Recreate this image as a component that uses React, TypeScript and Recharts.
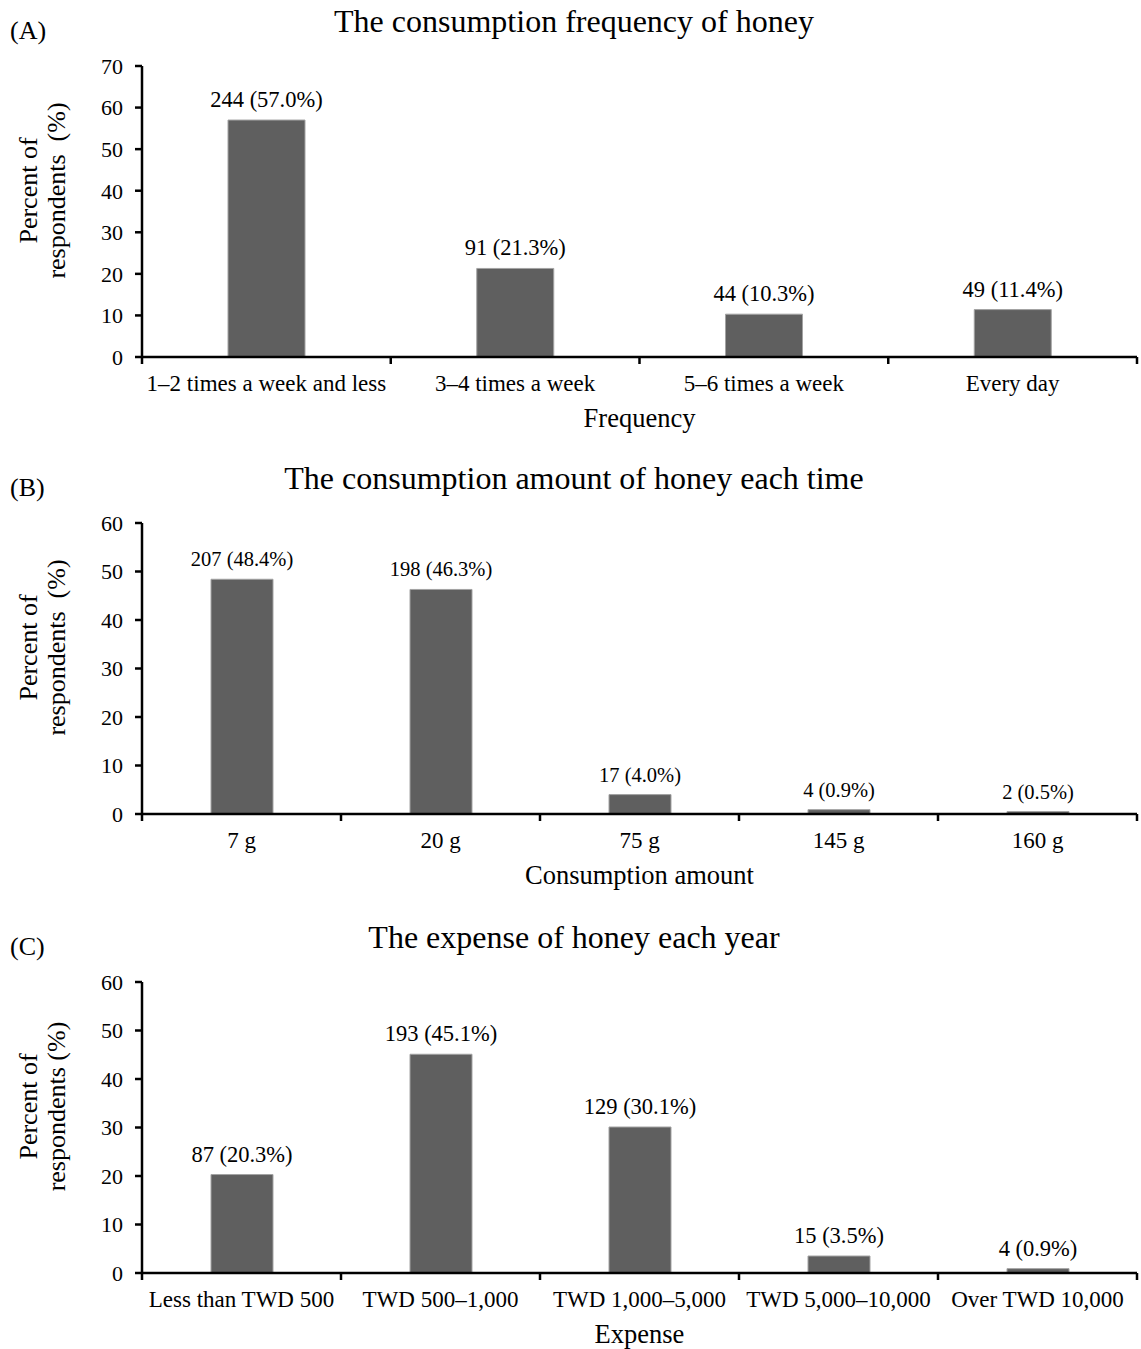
import React from 'react';
import { BarChart, Bar, XAxis, YAxis, LabelList } from 'recharts';

const FONT = '"Liberation Serif", "Times New Roman", Times, serif';

// (A) consumption frequency
const freqCategories = ['1–2 times a week and less', '3–4 times a week', '5–6 times a week', 'Every day'];
const freqCounts = [244, 91, 44, 49];
const freqPercents = [57.0, 21.3, 10.3, 11.4];
const freqTicks = [0, 10, 20, 30, 40, 50, 60, 70];

// (B) consumption amount each time
const amountCategories = ['7 g', '20 g', '75 g', '145 g', '160 g'];
const amountCounts = [207, 198, 17, 4, 2];
const amountPercents = [48.4, 46.3, 4.0, 0.9, 0.5];
const amountTicks = [0, 10, 20, 30, 40, 50, 60];

// (C) expense each year
const expenseCategories = ['Less than TWD 500', 'TWD 500–1,000', 'TWD 1,000–5,000', 'TWD 5,000–10,000', 'Over TWD 10,000'];
const expenseCounts = [87, 193, 129, 15, 4];
const expensePercents = [20.3, 45.1, 30.1, 3.5, 0.9];
const expenseTicks = [0, 10, 20, 30, 40, 50, 60];

const W = 1141;
const PLOT_LEFT = 142;
const PLOT_RIGHT = 1137;
const PLOT_TOP = 66;
const PLOT_H = 291;
const X_AXIS_H = 83;
const PANEL_H = PLOT_TOP + PLOT_H + X_AXIS_H;

const BAR_FILL = '#5f5f5f';
const BAR_STROKE = '#a3a3a3';

function CategoryTick(props: any) {
  const { x, y, payload, half, last } = props;
  return (
    <g>
      <line x1={x - half} x2={x - half} y1={y} y2={y + 7} stroke="#000" strokeWidth={2.5} />
      {payload.value === last && (
        <line x1={x + half} x2={x + half} y1={y} y2={y + 7} stroke="#000" strokeWidth={2.5} />
      )}
      <text x={x} y={y + 34} textAnchor="middle" fontSize={23} fontFamily={FONT} fill="#000">
        {payload.value}
      </text>
    </g>
  );
}

interface PanelProps {
  top: number;
  letter: string;
  title: string;
  xTitle: string;
  yTitle: string[];
  categories: string[];
  counts: number[];
  percents: number[];
  ticks: number[];
  barSize: number;
  labelSize: number;
}

function Panel({ top, letter, title, xTitle, yTitle, categories, counts, percents, ticks, barSize, labelSize }: PanelProps) {
  const data = categories.map((name, i) => ({
    name,
    value: percents[i],
    label: `${counts[i]} (${percents[i].toFixed(1)}%)`,
  }));
  const half = (PLOT_RIGHT - PLOT_LEFT) / categories.length / 2;
  const last = categories[categories.length - 1];

  return (
    <div style={{ position: 'absolute', left: 0, top, width: W, height: PANEL_H }}>
      <svg width={W} height={PLOT_TOP} style={{ position: 'absolute', left: 0, top: 0 }}>
        <text x={10} y={PLOT_TOP - 27} fontSize={26} fontFamily={FONT} fill="#000">{letter}</text>
        <text x={574} y={PLOT_TOP - 34} fontSize={32} fontFamily={FONT} fill="#000" textAnchor="middle">{title}</text>
      </svg>
      <BarChart
        width={W}
        height={PANEL_H}
        data={data}
        margin={{ top: PLOT_TOP, right: W - PLOT_RIGHT, bottom: 0, left: 0 }}
      >
        <XAxis
          dataKey="name"
          type="category"
          interval={0}
          height={X_AXIS_H}
          axisLine={{ stroke: '#000', strokeWidth: 2.5 }}
          tickLine={false}
          tickSize={0}
          tickMargin={0}
          tick={(p: any) => <CategoryTick {...p} half={half} last={last} />}
          label={(p: any) => {
            const vb = p.viewBox;
            return (
              <text x={vb.x + vb.width / 2} y={vb.y + 70} textAnchor="middle" fontSize={26.5} fontFamily={FONT} fill="#000">
                {xTitle}
              </text>
            );
          }}
        />
        <YAxis
          type="number"
          width={PLOT_LEFT}
          domain={[0, ticks[ticks.length - 1]]}
          ticks={ticks}
          interval={0}
          axisLine={{ stroke: '#000', strokeWidth: 2.5 }}
          tickLine={{ stroke: '#000', strokeWidth: 2.5 }}
          tickSize={7}
          tickMargin={12}
          tick={{ fill: '#000', fontSize: 22, fontFamily: FONT }}
          label={(p: any) => {
            const vb = p.viewBox;
            const cy = vb.y + vb.height / 2 - 21;
            return (
              <g>
                {yTitle.map((line, i) => {
                  const cx = vb.x + 37 + i * 28;
                  return (
                    <text
                      key={i}
                      x={cx}
                      y={cy}
                      transform={`rotate(-90, ${cx}, ${cy})`}
                      textAnchor="middle"
                      fontSize={26}
                      fontFamily={FONT}
                      fill="#000"
                      style={{ whiteSpace: 'pre' }}
                    >
                      {line}
                    </text>
                  );
                })}
              </g>
            );
          }}
        />
        <Bar dataKey="value" fill={BAR_FILL} stroke={BAR_STROKE} strokeWidth={1} barSize={barSize} isAnimationActive={false}>
          <LabelList
            dataKey="label"
            content={(p: any) => (
              <text
                x={Number(p.x) + Number(p.width) / 2}
                y={Number(p.y) - 13}
                textAnchor="middle"
                fontSize={labelSize}
                fontFamily={FONT}
                fill="#000"
              >
                {p.value}
              </text>
            )}
          />
        </Bar>
      </BarChart>
    </div>
  );
}

export default function App() {
  return (
    <div style={{ position: 'absolute', left: 0, top: 0, width: W, height: 1349, overflow: 'hidden', background: '#fff' }}>
      <Panel
        top={0}
        letter="(A)"
        title="The consumption frequency of honey"
        xTitle="Frequency"
        yTitle={['Percent of', 'respondents  (%)']}
        categories={freqCategories}
        counts={freqCounts}
        percents={freqPercents}
        ticks={freqTicks}
        barSize={77}
        labelSize={22.5}
      />
      <Panel
        top={457}
        letter="(B)"
        title="The consumption amount of honey each time"
        xTitle="Consumption amount"
        yTitle={['Percent of', 'respondents  (%)']}
        categories={amountCategories}
        counts={amountCounts}
        percents={amountPercents}
        ticks={amountTicks}
        barSize={62}
        labelSize={20.5}
      />
      <Panel
        top={916}
        letter="(C)"
        title="The expense of honey each year"
        xTitle="Expense"
        yTitle={['Percent of', 'respondents (%)']}
        categories={expenseCategories}
        counts={expenseCounts}
        percents={expensePercents}
        ticks={expenseTicks}
        barSize={62}
        labelSize={22.5}
      />
    </div>
  );
}
